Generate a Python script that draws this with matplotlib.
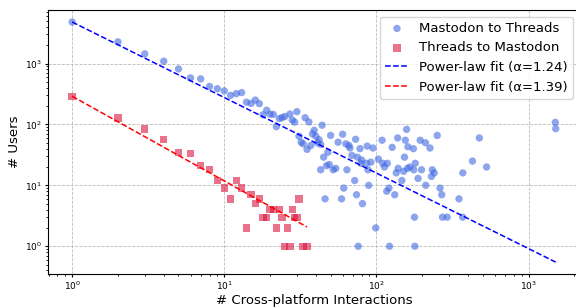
import numpy as np
import matplotlib
matplotlib.use("Agg")
import matplotlib.pyplot as plt

# Mastodon -> Threads: interactions vs. number of users
m2t_x = [1, 2, 3, 4, 5, 6, 7, 8, 9, 10, 11, 12, 13, 14, 15, 16, 17, 18, 19, 20,
         21, 22, 23, 24, 25, 27, 28, 29, 30, 31, 32, 33, 34, 35, 36, 37, 38, 39, 40, 41,
         42, 43, 43, 44, 45, 46, 47, 48, 49, 50, 52, 54, 56, 59, 60, 61, 63, 64, 66, 67,
         69, 72, 73, 74, 75, 76, 78, 79, 80, 81, 87, 86, 88, 89, 92, 95, 99, 103, 109, 110,
         113, 117, 118, 121, 122, 127, 132, 135, 138, 139, 147, 151, 153, 155, 158, 160, 161, 166, 175, 176,
         178, 179, 180, 188, 194, 198, 210, 211, 225, 230, 233, 240, 251, 262, 269, 272, 292, 349, 369, 370,
         428, 475, 530, 1500, 1510]
m2t_y = [4800, 2270, 1440, 1090, 815, 580, 560, 420, 385, 355, 300, 320, 333, 232, 221, 251, 219, 144, 171, 147,
         146, 92, 125, 129, 135, 148, 118, 109, 162, 64, 51, 48, 129, 39, 110, 45, 70, 80, 64, 50,
         56, 47, 18, 97, 29, 6, 21, 35, 22, 66, 18, 19, 51, 6, 69, 9, 48, 18, 45, 41,
         31, 12, 57, 7, 29, 1, 40, 23, 26, 5, 44, 23, 18, 10, 24, 41, 2, 27, 55, 23,
         20, 8, 23, 9, 1, 42, 7, 16, 60, 19, 12, 17, 29, 55, 83, 19, 43, 20, 40, 18,
         3, 1, 23, 13, 55, 18, 50, 10, 41, 14, 18, 16, 66, 9, 7, 3, 3, 6, 3, 16,
         25, 60, 20, 108, 85]

# Threads -> Mastodon
t2m_x = [1, 2, 3, 4, 5, 6, 7, 8, 9, 10, 11, 12, 13, 14, 15, 16, 17, 18, 19, 20,
         21, 22, 23, 24, 25, 26, 27, 28, 29, 30, 31, 33, 35]
t2m_y = [290, 127, 84, 57, 35, 33, 21, 18, 12, 9, 6, 12, 9, 2, 7, 5, 6, 3, 3, 4,
         4, 2, 4, 3, 1, 2, 1, 4, 3, 3, 6, 1, 1]

alpha_m2t = 1.24
alpha_t2m = 1.39

fig = plt.figure(figsize=(5.76, 3.08), dpi=100)
# right spine sits just past the image edge, as in the source
ax = fig.add_axes([0.0833, 0.11, 0.9235, 0.8575])

h1 = ax.scatter(m2t_x, m2t_y, s=28, color="royalblue", alpha=0.6,
                edgecolors="none", marker="o", label="Mastodon to Threads")
h2 = ax.scatter(t2m_x, t2m_y, s=28, color="crimson", alpha=0.6,
                edgecolors="none", marker="s", label="Threads to Mastodon")

# power-law fits anchored at x=1
xf1 = np.logspace(0, np.log10(max(m2t_x)), 100)
xf2 = np.logspace(0, np.log10(max(t2m_x)), 100)
h3, = ax.plot(xf1, m2t_y[0] * xf1 ** (-alpha_m2t), "--", color="blue", lw=1.1,
              label="Power-law fit (\u03b1=%.2f)" % alpha_m2t)
h4, = ax.plot(xf2, t2m_y[0] * xf2 ** (-alpha_t2m), "--", color="red", lw=1.1,
              label="Power-law fit (\u03b1=%.2f)" % alpha_t2m)

ax.set_xscale("log")
ax.set_yscale("log")
ax.grid(True, which="major", linestyle="--", color="#bbbbbb", lw=0.6)
ax.set_axisbelow(True)
ax.tick_params(which="major", labelsize=6.5, length=2.5, pad=1.5)
ax.tick_params(which="minor", length=1.5)
ax.set_xlabel("# Cross-platform Interactions", fontsize=9.5)
ax.set_ylabel("# Users", fontsize=9.5, labelpad=3)
ax.xaxis.set_label_coords(0.5, -0.076)
ax.legend(handles=[h1, h2, h3, h4], loc="upper right", fontsize=9.5,
          handlelength=1.8, borderaxespad=0.5)

fig.savefig("out.png", dpi=100)
